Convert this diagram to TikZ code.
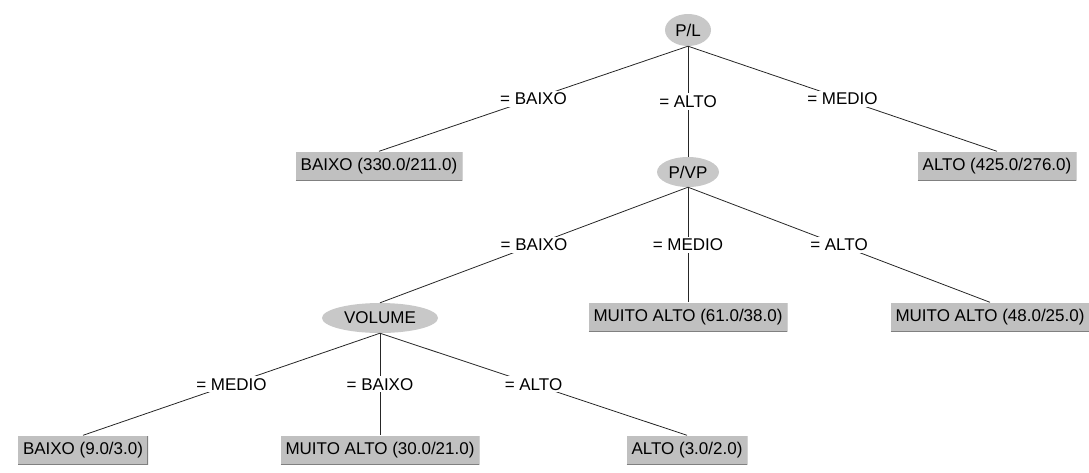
\documentclass[tikz,border=0pt]{standalone}
\usepackage{fontspec}
\setmainfont{Liberation Sans}
\usepackage{xcolor}
\usetikzlibrary{shapes.geometric}

\definecolor{nodegray}{RGB}{200,200,200}
\definecolor{boxgray}{RGB}{192,192,192}
\definecolor{shadegray}{RGB}{128,128,128}

\begin{document}
\begin{tikzpicture}[x=1pt,y=-1pt,font=\fontsize{17}{19}\selectfont,
  split/.style={ellipse,fill=nodegray,inner sep=0pt},
  leafbox/.style={rectangle,fill=boxgray,minimum height=29pt,inner xsep=5pt,inner ysep=0pt,
    text height=12pt,text depth=3.5pt,
    path picture={\draw[shadegray,line width=1.5pt] (path picture bounding box.south west) -- (path picture bounding box.south east) -- (path picture bounding box.north east);}},
  branch/.style={draw=black!85,line width=0.8pt},
  cond/.style={fill=white,inner xsep=4pt,inner ysep=2pt}]
\useasboundingbox (0,0) rectangle (1089,472);
% tests (ellipses) and leaves (boxes), placed on the pixel grid of the tree
\node[split,minimum width=46pt,minimum height=32pt] (pl) at (688,30) {P/L};
\node[split,minimum width=62pt,minimum height=30pt] (pvp) at (688,172) {P/VP};
\node[split,minimum width=116pt,minimum height=30pt] (vol) at (380,318) {VOLUME};
\node[leafbox] (bx330) at (379,166) {BAIXO (330.0/211.0)};
\node[leafbox] (al425) at (997,166) {ALTO (425.0/276.0)};
\node[leafbox] (ma61) at (688,317) {MUITO ALTO (61.0/38.0)};
\node[leafbox] (ma48) at (990,317) {MUITO ALTO (48.0/25.0)};
\node[leafbox] (bx9) at (83,450) {BAIXO (9.0/3.0)};
\node[leafbox] (ma30) at (380,450) {MUITO ALTO (30.0/21.0)};
\node[leafbox] (al3) at (687,450) {ALTO (3.0/2.0)};
\draw[branch] (pl.south) -- (bx330.north) node[midway,cond] {= BAIXO};
\draw[branch] (pl.south) -- (pvp.north) node[midway,cond] {= ALTO};
\draw[branch] (pl.south) -- (al425.north) node[midway,cond] {= MEDIO};
\draw[branch] (pvp.south) -- (vol.north) node[midway,cond] {= BAIXO};
\draw[branch] (pvp.south) -- (ma61.north) node[midway,cond] {= MEDIO};
\draw[branch] (pvp.south) -- (ma48.north) node[midway,cond] {= ALTO};
\draw[branch] (vol.south) -- (bx9.north) node[midway,cond] {= MEDIO};
\draw[branch] (vol.south) -- (ma30.north) node[midway,cond] {= BAIXO};
\draw[branch] (vol.south) -- (al3.north) node[midway,cond] {= ALTO};
\end{tikzpicture}
\end{document}
